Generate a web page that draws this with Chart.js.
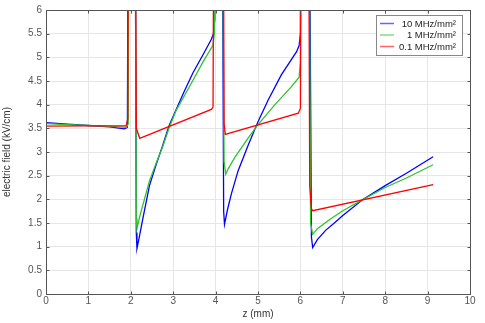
<!DOCTYPE html>
<html>
<head>
<meta charset="utf-8">
<title>electric field</title>
<script src="https://cdn.jsdelivr.net/npm/chart.js@4.4.1/dist/chart.umd.min.js"></script>
<style>
    html, body { margin: 0; padding: 0; background: #fff; }
</style>
</head>
<body>
<canvas id="fieldChart" width="485" height="323"></canvas>
<script>
// series names
const seriesLabels = ['10 MHz/mm\u00b2', '1 MHz/mm\u00b2', '0.1 MHz/mm\u00b2'];

// 10 MHz/mm2 (blue), 12 = off the top of the plot
const zBlue = [0, 0.5, 1, 1.5, 1.85, 1.92, 1.95, 2.09, 2.13, 2.145, 2.2, 2.29, 2.44, 2.6, 2.76,
    2.9, 3.07, 3.27, 3.47, 3.7, 3.9, 3.95, 3.98, 4.0, 4.14, 4.19, 4.21, 4.28, 4.37, 4.53,
    4.77, 5.0, 5.24, 5.55, 5.91, 5.97, 6.0, 6.02, 6.19, 6.26, 6.29, 6.4, 6.6, 6.8, 7.0,
    7.48, 8.0, 8.5, 9.13];
const fieldBlue = [3.62, 3.59, 3.56, 3.53, 3.49, 3.52, 12, 12, 1.3, 0.96, 1.2, 1.62, 2.29, 2.74, 3.16,
    3.55, 3.9, 4.3, 4.68, 5.05, 5.38, 5.5, 5.8, 12, 12, 1.75, 1.47, 1.78, 2.11, 2.6,
    3.15, 3.64, 4.1, 4.63, 5.12, 5.25, 5.5, 12, 12, 1.2, 0.98, 1.15, 1.35, 1.5, 1.66,
    2.0, 2.29, 2.55, 2.9];

// 1 MHz/mm2 (green)
const zGreen = [0, 0.5, 1, 1.5, 1.9, 1.94, 1.96, 2.09, 2.13, 2.145, 2.2, 2.29, 2.44, 2.6, 2.76,
    2.9, 3.07, 3.27, 3.47, 3.7, 3.94, 3.97, 3.99, 4.14, 4.2, 4.24, 4.3, 4.45, 4.77, 5.0,
    5.4, 5.79, 5.97, 6.0, 6.02, 6.19, 6.24, 6.29, 6.4, 6.7, 7.0, 7.48, 8.0, 8.5, 9.13];
const fieldGreen = [3.6, 3.58, 3.56, 3.54, 3.52, 3.6, 12, 12, 1.6, 1.38, 1.6, 1.9, 2.39, 2.77, 3.13,
    3.5, 3.88, 4.2, 4.52, 4.9, 5.26, 5.5, 12, 12, 2.8, 2.53, 2.65, 2.88, 3.3, 3.58,
    4.0, 4.38, 4.58, 4.9, 12, 12, 1.5, 1.26, 1.38, 1.58, 1.76, 2.0, 2.25, 2.45, 2.73];

// 0.1 MHz/mm2 (red)
const zRed = [0, 1, 1.89, 1.93, 1.95, 2.09, 2.13, 2.21, 3.9, 3.94, 3.97, 4.17, 4.2, 4.23, 5.95,
    6.0, 6.03, 6.18, 6.22, 6.26, 6.29, 9.13];
const fieldRed = [3.545, 3.55, 3.555, 3.7, 12, 12, 3.5, 3.29, 3.9, 3.95, 12, 12, 3.6, 3.37, 3.82,
    3.92, 12, 12, 2.3, 1.8, 1.76, 2.31];

const seriesColors = ['#0000ff', '#2ec42e', '#ff0000'];

const xTicks = [0, 1, 2, 3, 4, 5, 6, 7, 8, 9, 10];
const yTicks = [0, 0.5, 1, 1.5, 2, 2.5, 3, 3.5, 4, 4.5, 5, 5.5, 6];

const FONT = '"Liberation Sans", Arial, sans-serif';

function toPoints(zs, vals) {
    return zs.map((z, i) => ({ x: z, y: vals[i] }));
}

// box around the plot with small inward ticks, and the framed legend top right
const framePlugin = {
    id: 'frame',
    afterDraw(chart) {
        const ctx = chart.ctx;
        const a = chart.chartArea;
        const xs = chart.scales.x;
        const ys = chart.scales.y;
        const L = Math.round(a.left) + 0.5, R = Math.round(a.right) + 0.5;
        const T = Math.round(a.top) + 0.5, B = Math.round(a.bottom) + 0.5;
        ctx.save();
        ctx.strokeStyle = '#555';
        ctx.lineWidth = 1;
        ctx.strokeRect(L, T, R - L, B - T);
        ctx.beginPath();
        xTicks.forEach(t => {
            const px = Math.round(xs.getPixelForValue(t)) + 0.5;
            ctx.moveTo(px, B); ctx.lineTo(px, B - 3);
            ctx.moveTo(px, T); ctx.lineTo(px, T + 3);
        });
        yTicks.forEach(t => {
            const py = Math.round(ys.getPixelForValue(t)) + 0.5;
            ctx.moveTo(L, py); ctx.lineTo(L + 3, py);
            ctx.moveTo(R, py); ctx.lineTo(R - 3, py);
        });
        ctx.stroke();

        // legend
        ctx.fillStyle = '#fff';
        ctx.fillRect(376.5, 15.5, 86, 40);
        ctx.strokeStyle = '#888';
        ctx.strokeRect(376.5, 15.5, 86, 40);
        ctx.font = '9.5px ' + FONT;
        ctx.textAlign = 'right';
        ctx.textBaseline = 'middle';
        const rows = [23.5, 35, 46.5];
        seriesLabels.forEach((label, i) => {
            ctx.strokeStyle = seriesColors[i];
            ctx.globalAlpha = 0.6;
            ctx.lineWidth = 1.5;
            ctx.beginPath();
            ctx.moveTo(380, rows[i]);
            ctx.lineTo(394, rows[i]);
            ctx.stroke();
            ctx.globalAlpha = 1;
            ctx.fillStyle = '#222';
            ctx.fillText(label, 456, rows[i] + 0.5);
        });
        ctx.restore();
    }
};

const ctx = document.getElementById('fieldChart').getContext('2d');
new Chart(ctx, {
    type: 'scatter',
    data: {
        datasets: [
            {
                label: seriesLabels[0],
                data: toPoints(zBlue, fieldBlue),
                borderColor: seriesColors[0],
                order: 2
            },
            {
                label: seriesLabels[1],
                data: toPoints(zGreen, fieldGreen),
                borderColor: seriesColors[1],
                order: 1
            },
            {
                label: seriesLabels[2],
                data: toPoints(zRed, fieldRed),
                borderColor: seriesColors[2],
                order: 0
            }
        ].map(ds => Object.assign(ds, {
            showLine: true,
            borderWidth: 1.3,
            pointRadius: 0,
            tension: 0,
            fill: false
        }))
    },
    options: {
        responsive: false,
        animation: false,
        devicePixelRatio: 1,
        layout: { padding: { left: 0, top: 8, right: 15, bottom: 0 } },
        plugins: {
            legend: { display: false },
            tooltip: { enabled: false }
        },
        scales: {
            x: {
                type: 'linear',
                min: 0,
                max: 10,
                afterFit: scale => { scale.height = 29; },
                afterBuildTicks: scale => { scale.ticks = xTicks.map(v => ({ value: v })); },
                ticks: {
                    color: '#555',
                    font: { family: FONT, size: 10 },
                    padding: 1,
                    maxRotation: 0,
                    callback: v => String(v)
                },
                grid: { color: '#e6e6e6', drawTicks: false, tickLength: 0 },
                border: { display: false },
                title: {
                    display: true,
                    text: 'z (mm)',
                    color: '#333',
                    font: { family: FONT, size: 10 },
                    padding: { top: 0, bottom: 3 }
                }
            },
            y: {
                type: 'linear',
                min: 0,
                max: 6,
                afterFit: scale => { scale.width = 46; },
                afterBuildTicks: scale => { scale.ticks = yTicks.map(v => ({ value: v })); },
                ticks: {
                    color: '#555',
                    font: { family: FONT, size: 10 },
                    padding: 4,
                    callback: v => String(v)
                },
                grid: { color: '#e6e6e6', drawTicks: false, tickLength: 0 },
                border: { display: false },
                title: {
                    display: true,
                    text: 'electric field (kV/cm)',
                    color: '#333',
                    font: { family: FONT, size: 10 },
                    padding: { top: 1, bottom: 0 }
                }
            }
        }
    },
    plugins: [framePlugin]
});
</script>
</body>
</html>
